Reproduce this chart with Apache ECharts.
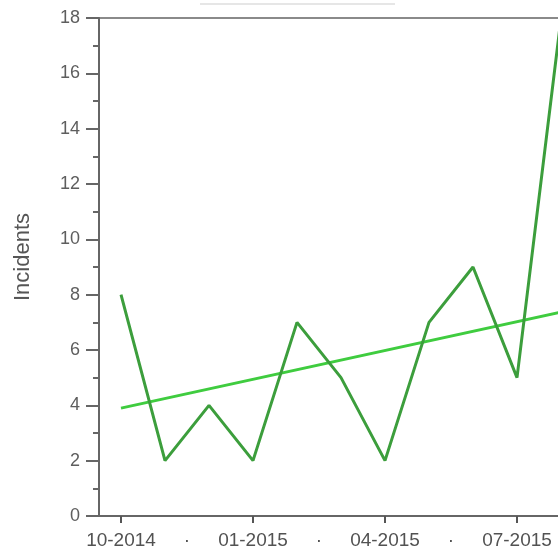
<!DOCTYPE html>
<html>
<head>
<meta charset="utf-8">
<script src="https://cdn.jsdelivr.net/npm/echarts@6/dist/echarts.min.js"></script>
<style>
  html, body { margin: 0; padding: 0; background: #fff; }
  #chart { width: 558px; height: 557px; }
</style>
</head>
<body>
<div id="chart"></div>
<script>
// monthly incident counts
const months = ['10-2014', '11-2014', '12-2014', '01-2015', '02-2015', '03-2015',
   '04-2015', '05-2015', '06-2015', '07-2015', '08-2015'];
const incidents = [8, 2, 4, 2, 7, 5, 2, 7, 9, 5, 18];
// trend line endpoints (first and last month)
const trendStart = 3.9;
const trendEnd = 7.37;
const yTicks = [0, 2, 4, 6, 8, 10, 12, 14, 16, 18];

const labelFont = 'Liberation Sans, Arial, sans-serif';

const chart = echarts.init(document.getElementById('chart'));

const option = {
   animation: false,
   grid: {
      left: 99,
      top: 18,
      width: 484,
      height: 498,
      outerBoundsMode: 'none',
      show: true,
      borderColor: '#8a8a8a',
      borderWidth: 2
   },
   graphic: [{
      type: 'line',
      shape: { x1: 200, y1: 4, x2: 395, y2: 4 },
      style: { stroke: '#e6e6e6', lineWidth: 2 }
   }],
   xAxis: {
      type: 'value',
      min: -0.5,
      max: months.length - 0.5,
      splitLine: { show: false },
      axisLine: { show: true, onZero: false, lineStyle: { color: '#666', width: 2 } },
      axisTick: {
         show: true,
         length: 7,
         lineStyle: { color: '#555', width: 2 },
         customValues: [0, 3, 6, 9]
      },
      axisLabel: {
         customValues: [0, 1.5, 3, 4.5, 6, 7.5, 9],
         formatter: function (v) {
            return Number.isInteger(v) ? months[v] : '·';
         },
         color: '#525252',
         fontSize: 19,
         fontFamily: labelFont,
         margin: 15
      }
   },
   yAxis: {
      type: 'value',
      min: yTicks[0],
      max: yTicks[yTicks.length - 1],
      interval: 2,
      name: 'Incidents',
      nameLocation: 'middle',
      nameGap: 65,
      nameTextStyle: {
         color: '#555',
         fontSize: 22,
         fontFamily: labelFont,
         padding: [0, 0, 0, 20]
      },
      splitLine: { show: false },
      axisLine: { show: true, onZero: false, lineStyle: { color: '#666', width: 2 } },
      axisTick: { show: true, length: 13, lineStyle: { color: '#666', width: 2 } },
      minorTick: { show: true, splitNumber: 2, length: 6, lineStyle: { color: '#666', width: 2 } },
      axisLabel: {
         color: '#5e5e5e',
         fontSize: 18,
         fontFamily: labelFont,
         margin: 19
      }
   },
   series: [
      {
         name: 'Incidents',
         type: 'line',
         data: incidents.map((v, i) => [i, v]),
         symbol: 'none',
         lineStyle: { color: '#3c9e3c', width: 3 },
         z: 3
      },
      {
         name: 'Trend',
         type: 'line',
         data: [[0, trendStart], [months.length - 1, trendEnd]],
         symbol: 'none',
         lineStyle: { color: '#3fcc3f', width: 3 },
         z: 2
      }
   ]
};

chart.setOption(option);
</script>
</body>
</html>
